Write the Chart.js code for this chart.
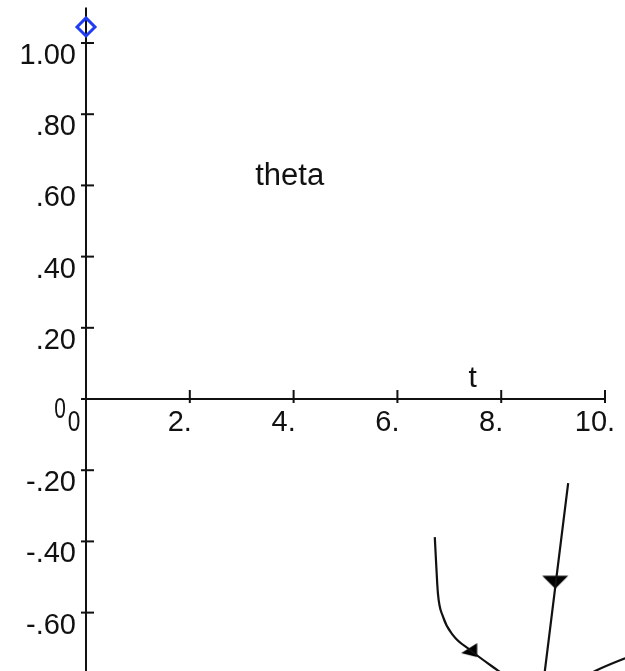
<!DOCTYPE html>
<html>
<head>
<meta charset="utf-8">
<script src="https://cdn.jsdelivr.net/npm/chart.js@4.4.1/dist/chart.umd.min.js"></script>
<style>
  html, body { margin: 0; padding: 0; background: #ffffff; }
  #wrap { width: 625px; height: 671px; }
</style>
</head>
<body>
<div id="wrap"><canvas id="plot" width="625" height="671"></canvas></div>
<script>
// theta(t) phase trajectories
const curveA_t = [6.72, 6.74, 6.78, 6.88, 7.07, 7.40, 7.92, 8.30];
const curveA_v = [-0.388, -0.444, -0.545, -0.612, -0.663, -0.705, -0.761, -0.800];
const curveB_t = [9.29, 8.81];
const curveB_v = [-0.236, -0.800];
const curveC_t = [9.55, 9.81, 10.39, 10.60];
const curveC_v = [-0.785, -0.764, -0.728, -0.716];

// direction arrows along the trajectories
const arrowA = { t: 7.43, v: -0.708 };
const arrowB = { t: 9.04, v: -0.509 };

// initial condition marker
const initPoint = { t: 0, v: 1.045 };

// axis ticks
const xTicks = [2, 4, 6, 8, 10];
const xTickLabels = ['2.', '4.', '6.', '8.', '10.'];
const yTicks = [1.0, 0.8, 0.6, 0.4, 0.2, -0.2, -0.4, -0.6];
const yTickLabels = ['1.00', '.80', '.60', '.40', '.20', '-.20', '-.40', '-.60'];

const xLabel = 't';
const yLabel = 'theta';

function pts(ts, vs) { return ts.map((t, i) => ({ x: t, y: vs[i] })); }

function triangleCanvas(w, h, verts) {
  const c = document.createElement('canvas');
  c.width = w; c.height = h;
  const g = c.getContext('2d');
  g.fillStyle = '#000';
  g.beginPath();
  g.moveTo(verts[0][0], verts[0][1]);
  for (let i = 1; i < verts.length; i++) g.lineTo(verts[i][0], verts[i][1]);
  g.closePath();
  g.fill();
  return c;
}
const arrowAImg = triangleCanvas(24, 24, [[17.5, 4], [17.5, 18], [1.5, 14]]);
const arrowBImg = triangleCanvas(30, 30, [[2, 10.5], [28, 10.5], [15, 23.5]]);

const FONT = "'Liberation Sans', Arial, sans-serif";
const INK = '#111';

const axesPlugin = {
  id: 'crossAxes',
  beforeDatasetsDraw(chart) {
    const ctx = chart.ctx;
    const xs = chart.scales.x, ys = chart.scales.y;
    const x0 = xs.getPixelForValue(0), y0 = ys.getPixelForValue(0);
    ctx.save();
    ctx.strokeStyle = '#111';
    ctx.lineWidth = 2;
    // vertical axis
    ctx.beginPath();
    ctx.moveTo(x0, ys.getPixelForValue(1.10));
    ctx.lineTo(x0, ys.getPixelForValue(-0.80));
    ctx.stroke();
    // horizontal axis
    ctx.beginPath();
    ctx.moveTo(x0, y0);
    ctx.lineTo(xs.getPixelForValue(10), y0);
    ctx.stroke();
    // y ticks (including origin)
    [...yTicks, 0].forEach(v => {
      const py = ys.getPixelForValue(v);
      ctx.beginPath();
      ctx.moveTo(x0 - 5, py);
      ctx.lineTo(x0 + 8, py);
      ctx.stroke();
    });
    // x ticks
    xTicks.forEach(t => {
      const px = xs.getPixelForValue(t);
      ctx.beginPath();
      ctx.moveTo(px, y0 - 9);
      ctx.lineTo(px, y0 + 4);
      ctx.stroke();
    });

    ctx.fillStyle = INK;
    ctx.font = '29px ' + FONT;
    ctx.textBaseline = 'alphabetic';
    // y tick labels
    ctx.textAlign = 'right';
    yTicks.forEach((v, i) => {
      const py = ys.getPixelForValue(v);
      ctx.fillText(yTickLabels[i], x0 - 10, py + 21);
    });
    // x tick labels
    ctx.textAlign = 'center';
    xTicks.forEach((t, i) => {
      const px = xs.getPixelForValue(t);
      ctx.fillText(xTickLabels[i], px - 10, y0 + 32);
    });
    // origin labels (narrow zeros)
    ctx.save();
    ctx.translate(x0 - 26, y0 + 19);
    ctx.scale(0.72, 1);
    ctx.fillText('0', 0, 0);
    ctx.restore();
    ctx.save();
    ctx.translate(x0 - 12, y0 + 32);
    ctx.scale(0.78, 1);
    ctx.fillText('0', 0, 0);
    ctx.restore();

    // axis names
    ctx.font = '30px ' + FONT;
    ctx.textAlign = 'center';
    ctx.fillText(xLabel, xs.getPixelForValue(7.45), y0 - 12);
    ctx.font = '31px ' + FONT;
    ctx.textAlign = 'left';
    ctx.fillText(yLabel, xs.getPixelForValue(3.26), ys.getPixelForValue(0.60));
    ctx.restore();
  }
};

const lineStyle = {
  showLine: true,
  borderColor: '#111',
  borderWidth: 2.2,
  pointRadius: 0,
  pointHoverRadius: 0,
  fill: false,
  cubicInterpolationMode: 'monotone'
};

new Chart(document.getElementById('plot'), {
  type: 'scatter',
  data: {
    datasets: [
      Object.assign({ data: pts(curveA_t, curveA_v) }, lineStyle),
      Object.assign({ data: pts(curveB_t, curveB_v) }, lineStyle),
      Object.assign({ data: pts(curveC_t, curveC_v) }, lineStyle),
      { data: [{ x: arrowA.t, y: arrowA.v }], pointStyle: arrowAImg, pointRadius: 12 },
      { data: [{ x: arrowB.t, y: arrowB.v }], pointStyle: arrowBImg, pointRadius: 15 },
      {
        data: [{ x: initPoint.t, y: initPoint.v }],
        pointStyle: 'rectRot',
        pointRadius: 9,
        borderColor: '#1f3cf5',
        borderWidth: 3,
        backgroundColor: 'rgba(0,0,0,0)'
      }
    ]
  },
  options: {
    responsive: false,
    animation: false,
    events: [],
    layout: { padding: 0, autoPadding: false },
    plugins: { legend: { display: false }, tooltip: { enabled: false } },
    scales: {
      x: { type: 'linear', display: false, min: -1.657, max: 10.385 },
      y: { type: 'linear', display: false, min: -0.764, max: 1.1208 }
    }
  },
  plugins: [axesPlugin]
});
</script>
</body>
</html>
